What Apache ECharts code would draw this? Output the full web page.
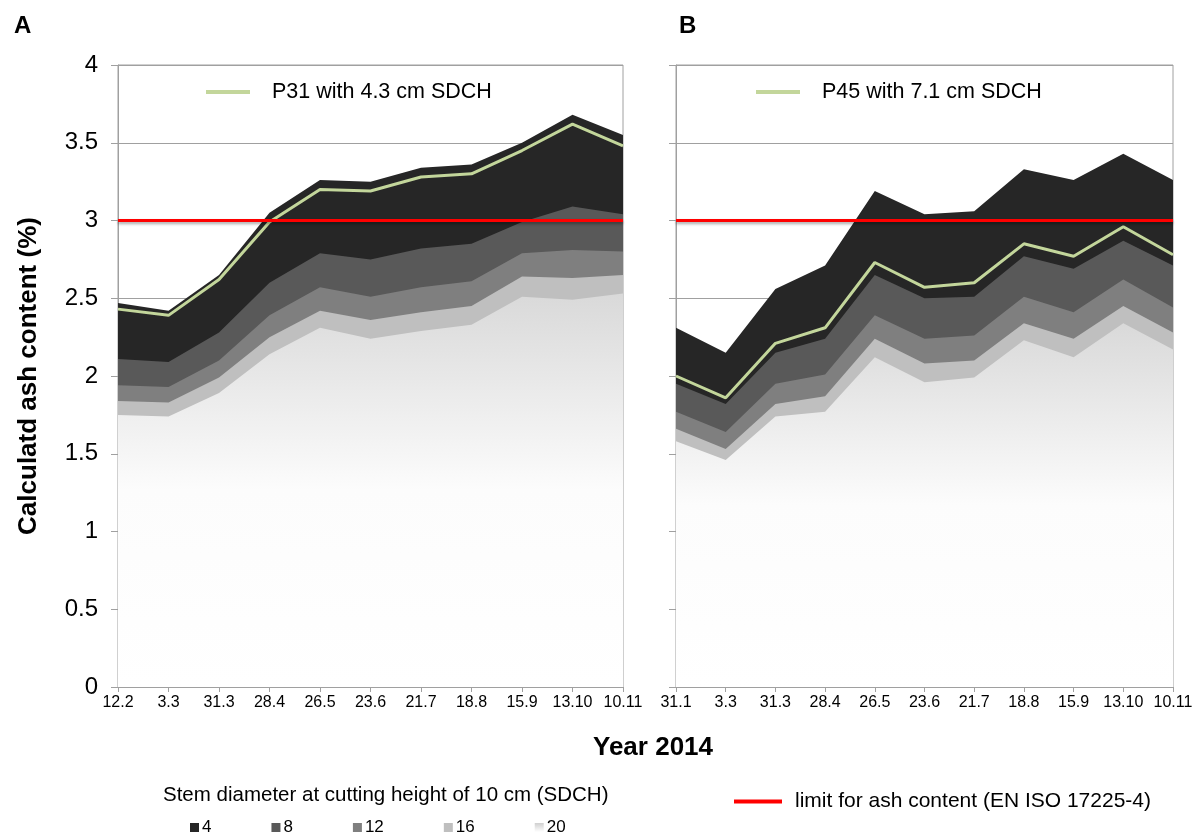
<!DOCTYPE html>
<html>
<head>
<meta charset="utf-8">
<script src="https://cdn.jsdelivr.net/npm/echarts@6/dist/echarts.min.js"></script>
<style>
  html, body { margin: 0; padding: 0; background: #fff; }
  #chart { width: 1201px; height: 837px; }
</style>
</head>
<body>
<div id="chart"></div>
<script>
// sampling dates (2014)
const datesA = ['12.2', '3.3', '31.3', '28.4', '26.5', '23.6', '21.7', '18.8', '15.9', '13.10', '10.11']
const datesB = ['31.1', '3.3', '31.3', '28.4', '26.5', '23.6', '21.7', '18.8', '15.9', '13.10', '10.11']
const yTicks = [0, 0.5, 1, 1.5, 2, 2.5, 3, 3.5, 4]

// panel A: ash content (%) per SDCH class
const sd4A = [2.47, 2.42, 2.65, 3.05, 3.26, 3.25, 3.34, 3.36, 3.50, 3.68, 3.55]
const sd8A = [2.11, 2.09, 2.28, 2.60, 2.79, 2.75, 2.82, 2.85, 2.99, 3.09, 3.04]
const sd12A = [1.94, 1.93, 2.10, 2.39, 2.57, 2.51, 2.57, 2.61, 2.79, 2.81, 2.80]
const sd16A = [1.84, 1.83, 1.99, 2.25, 2.42, 2.36, 2.41, 2.45, 2.64, 2.63, 2.65]
const sd20A = [1.75, 1.74, 1.89, 2.14, 2.31, 2.24, 2.29, 2.33, 2.51, 2.49, 2.53]
const p31 = [2.43, 2.39, 2.62, 2.99, 3.20, 3.19, 3.28, 3.30, 3.45, 3.62, 3.48]

// panel B
const sd4B = [2.31, 2.15, 2.56, 2.71, 3.19, 3.04, 3.06, 3.33, 3.26, 3.43, 3.26]
const sd8B = [1.95, 1.82, 2.15, 2.24, 2.65, 2.50, 2.51, 2.77, 2.69, 2.87, 2.71]
const sd12B = [1.77, 1.64, 1.95, 2.01, 2.39, 2.24, 2.26, 2.51, 2.41, 2.62, 2.44]
const sd16B = [1.66, 1.53, 1.82, 1.87, 2.24, 2.08, 2.10, 2.34, 2.24, 2.45, 2.28]
const sd20B = [1.58, 1.46, 1.74, 1.77, 2.12, 1.96, 1.99, 2.23, 2.12, 2.34, 2.17]
const p45 = [2.00, 1.86, 2.21, 2.31, 2.73, 2.57, 2.60, 2.85, 2.77, 2.96, 2.78]

// EN ISO 17225-4 limit
const limitValue = 3

const FONT = 'Liberation Sans, Arial, sans-serif'
const AXIS_GREY = '#a0a0a0'

const chart = echarts.init(document.getElementById('chart'))

const fade = new echarts.graphic.LinearGradient(0, 0, 0, 1, [
  { offset: 0, color: '#d9d9d9' },
  { offset: 0.5, color: '#fcfcfc' },
  { offset: 1, color: '#ffffff' },
])
const fadeIcon = new echarts.graphic.LinearGradient(0, 0, 0, 1, [
  { offset: 0, color: '#cfcfcf' },
  { offset: 1, color: '#ffffff' },
])

const classes = [
  { name: '4', color: '#262626', a: sd4A, b: sd4B },
  { name: '8', color: '#595959', a: sd8A, b: sd8B },
  { name: '12', color: '#7f7f7f', a: sd12A, b: sd12B },
  { name: '16', color: '#bfbfbf', a: sd16A, b: sd16B },
  { name: '20', color: fade, icon: fadeIcon, a: sd20A, b: sd20B },
]

const areaSeries = (c, data, idx) => ({
  name: c.name,
  type: 'line',
  xAxisIndex: idx,
  yAxisIndex: idx,
  data: data,
  symbol: 'none',
  silent: true,
  lineStyle: { width: 0 },
  itemStyle: { color: c.icon || c.color },
  areaStyle: { color: c.color, opacity: 1 },
})

const lineSeries = (name, data, color, idx, shadow) => ({
  name: name,
  type: 'line',
  xAxisIndex: idx,
  yAxisIndex: idx,
  data: data,
  symbol: 'none',
  silent: true,
  itemStyle: { color: color },
  lineStyle: shadow
    ? { color: color, width: 3, shadowColor: 'rgba(0,0,0,0.35)', shadowBlur: 3, shadowOffsetY: 2 }
    : { color: color, width: 3 },
})

const limitName = 'limit for ash content (EN ISO 17225-4)'
const limitA = datesA.map(() => limitValue)
const limitB = datesB.map(() => limitValue)

const xAxisBase = (data, idx) => ({
  type: 'category',
  gridIndex: idx,
  data: data,
  boundaryGap: false,
  axisLine: { lineStyle: { color: AXIS_GREY } },
  axisTick: { show: true, length: 5, interval: 0, lineStyle: { color: AXIS_GREY } },
  axisLabel: { color: '#000', fontFamily: FONT, fontSize: 16, margin: 8, interval: 0, hideOverlap: false },
})

const yAxisBase = (idx, showLabels) => ({
  type: 'value',
  gridIndex: idx,
  min: 0,
  max: 4,
  interval: 0.5,
  axisLine: { show: true, lineStyle: { color: AXIS_GREY } },
  axisTick: { show: true, length: 7, lineStyle: { color: AXIS_GREY } },
  axisLabel: {
    show: showLabels,
    color: '#000',
    fontFamily: FONT,
    fontSize: 24,
    margin: 20,
    formatter: v => (yTicks.includes(v) ? String(v) : ''),
  },
  splitLine: { show: true, lineStyle: { color: AXIS_GREY, width: 1 } },
})

const option = {
  backgroundColor: '#fff',
  animation: false,
  title: [
    { text: 'A', left: 9, top: 9, textStyle: { fontFamily: FONT, fontSize: 24, fontWeight: 'bold', color: '#000' } },
    { text: 'B', left: 674, top: 9, textStyle: { fontFamily: FONT, fontSize: 24, fontWeight: 'bold', color: '#000' } },
    { text: 'Year 2014', left: 588, top: 730, textStyle: { fontFamily: FONT, fontSize: 26, fontWeight: 'bold', color: '#000' } },
    { text: 'Stem diameter at cutting height of 10 cm (SDCH)', left: 158, top: 780, textStyle: { fontFamily: FONT, fontSize: 20.5, fontWeight: 'normal', color: '#000' } },
  ],
  grid: [
    { left: 118, top: 65, width: 505, height: 622, show: true, borderColor: AXIS_GREY, borderWidth: 1 },
    { left: 676, top: 65, width: 497, height: 622, show: true, borderColor: AXIS_GREY, borderWidth: 1 },
  ],
  xAxis: [xAxisBase(datesA, 0), xAxisBase(datesB, 1)],
  yAxis: [
    Object.assign(yAxisBase(0, true), {
      name: 'Calculatd ash content (%)',
      nameLocation: 'middle',
      nameGap: 76,
      nameTextStyle: { fontFamily: FONT, fontSize: 26, fontWeight: 'bold', color: '#000' },
    }),
    yAxisBase(1, false),
  ],
  legend: [
    {
      data: ['P31 with 4.3 cm SDCH'],
      left: 201,
      top: 76,
      icon: 'rect',
      itemWidth: 44,
      itemHeight: 4,
      selectedMode: false,
      textStyle: { fontFamily: FONT, fontSize: 21.5, color: '#000', padding: [0, 0, 0, 17] },
    },
    {
      data: ['P45 with 7.1 cm SDCH'],
      left: 751,
      top: 76,
      icon: 'rect',
      itemWidth: 44,
      itemHeight: 4,
      selectedMode: false,
      textStyle: { fontFamily: FONT, fontSize: 21.5, color: '#000', padding: [0, 0, 0, 17] },
    },
    {
      data: classes.map(c => c.name),
      left: 185,
      top: 814,
      icon: 'rect',
      itemWidth: 9,
      itemHeight: 9,
      itemGap: 60,
      selectedMode: false,
      textStyle: { fontFamily: FONT, fontSize: 17, color: '#000', padding: [0, 0, 0, -2] },
    },
    {
      data: [limitName],
      left: 729,
      top: 786,
      icon: 'rect',
      itemWidth: 48,
      itemHeight: 4,
      selectedMode: false,
      textStyle: { fontFamily: FONT, fontSize: 21, color: '#000', padding: [0, 0, 0, 8] },
    },
  ],
  series: [
    ...classes.map(c => areaSeries(c, c.a, 0)),
    lineSeries('P31 with 4.3 cm SDCH', p31, '#c3d69b', 0, false),
    lineSeries(limitName, limitA, '#ff0000', 0, true),
    ...classes.map(c => areaSeries(c, c.b, 1)),
    lineSeries('P45 with 7.1 cm SDCH', p45, '#c3d69b', 1, false),
    lineSeries(limitName, limitB, '#ff0000', 1, true),
  ],
}

chart.setOption(option)
</script>
</body>
</html>
